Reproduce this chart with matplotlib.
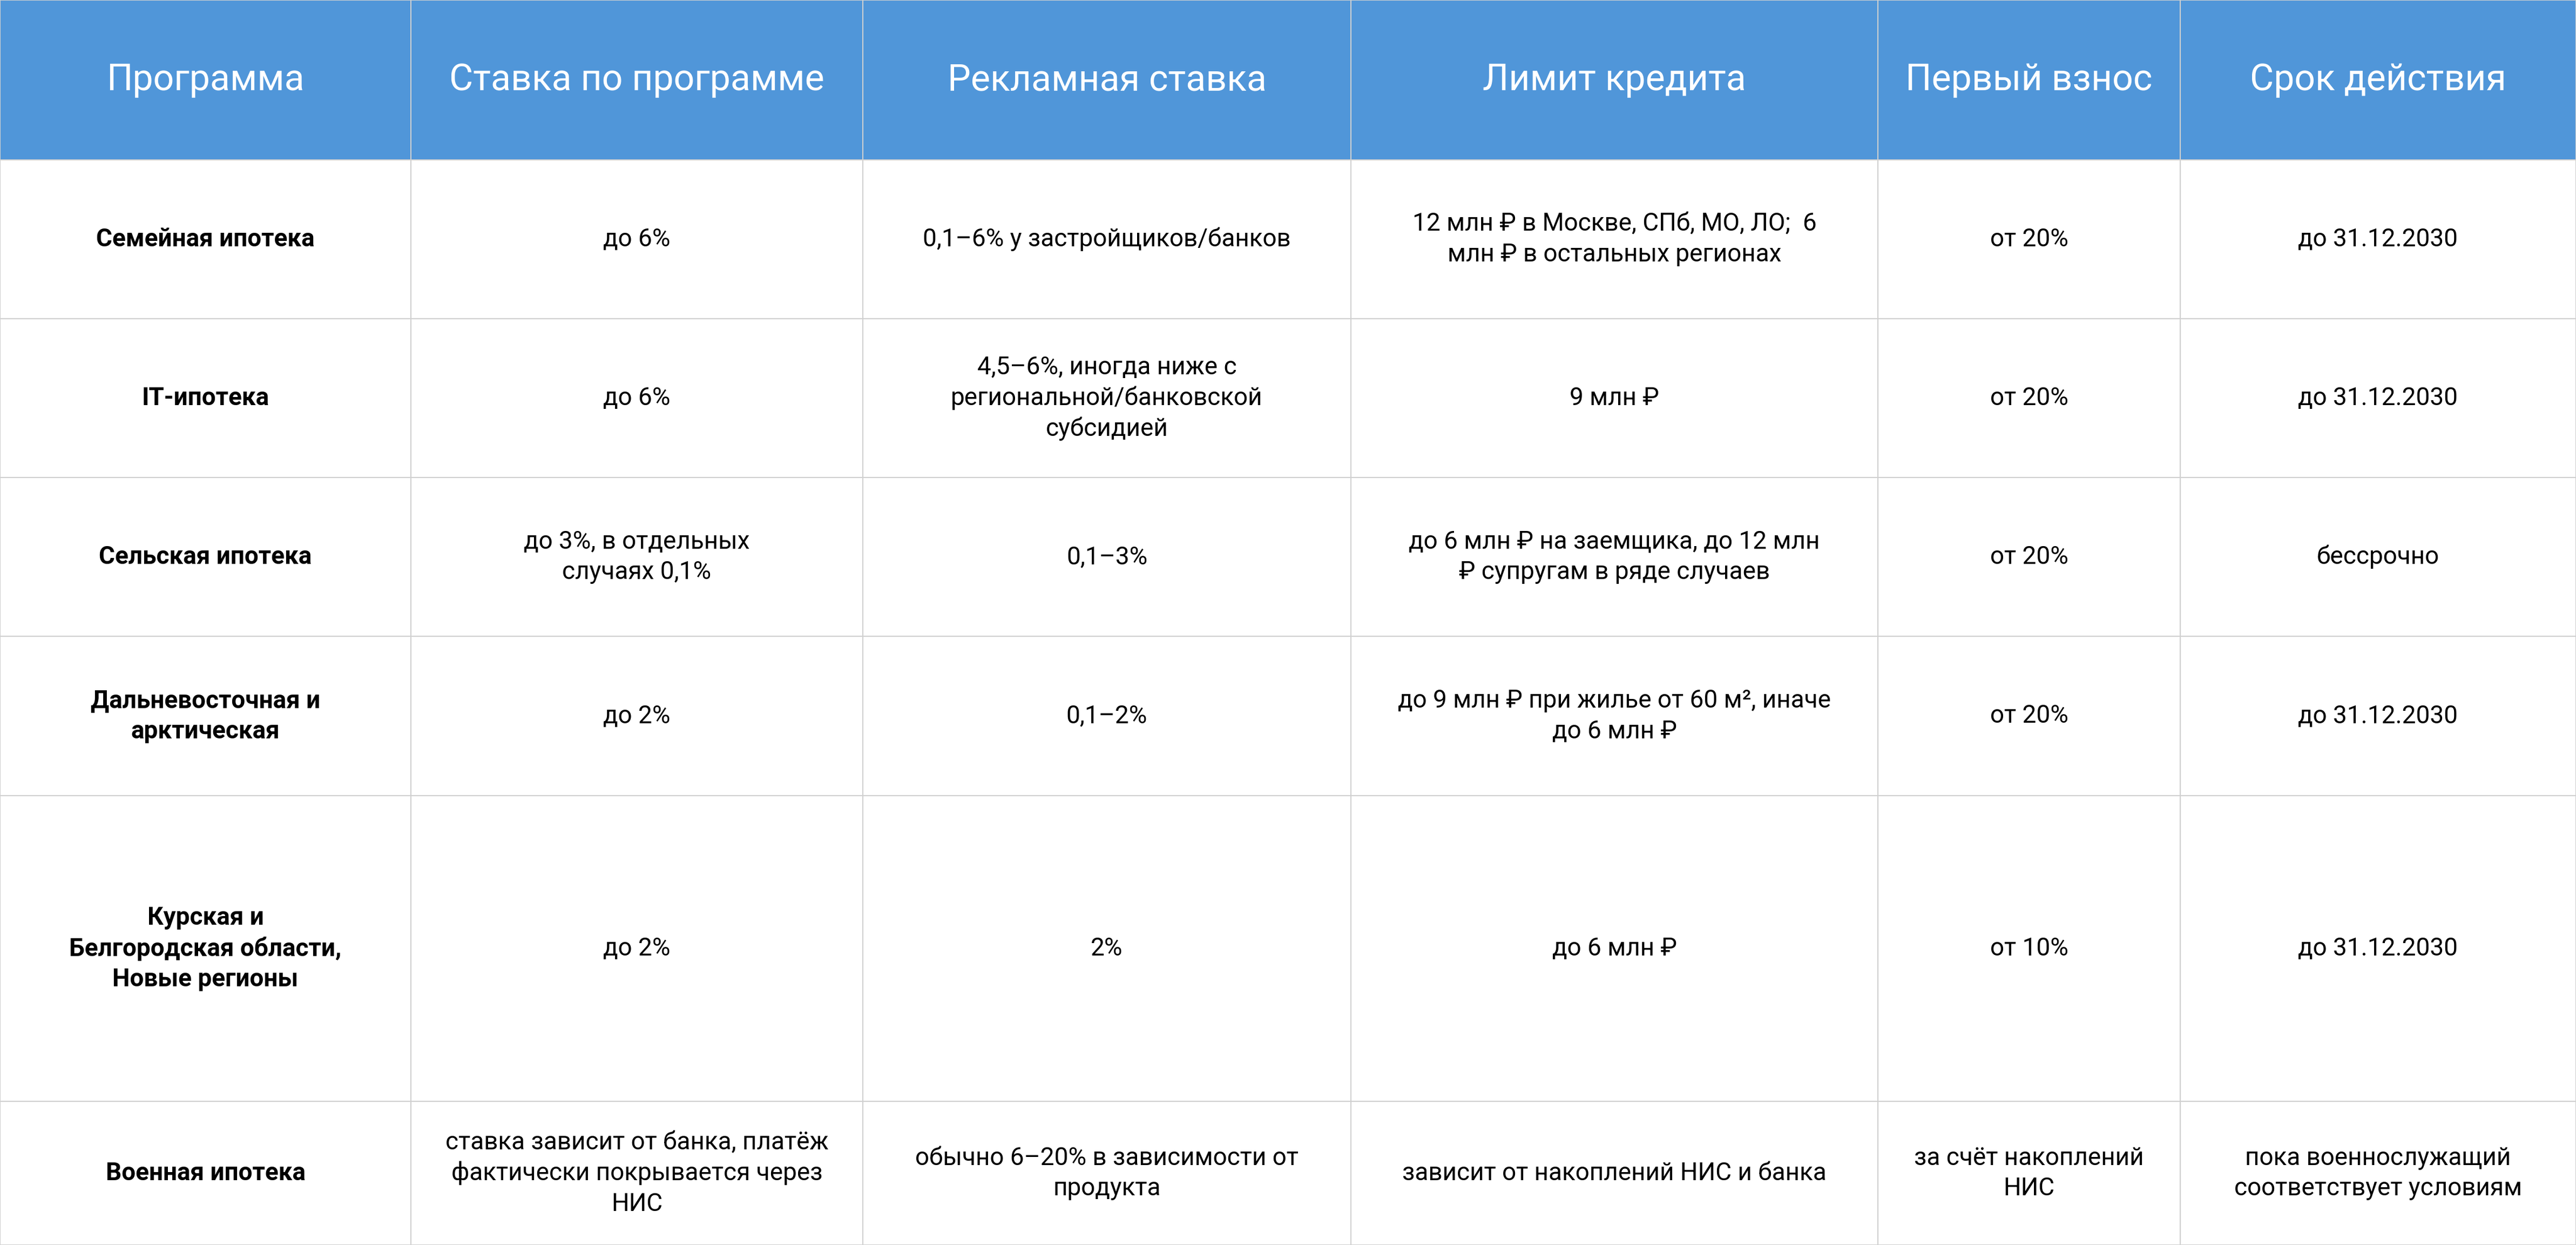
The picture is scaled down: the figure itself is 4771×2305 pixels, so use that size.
import matplotlib
matplotlib.use("Agg")
import matplotlib.pyplot as plt
from matplotlib.patches import Rectangle

plt.rcParams['font.family'] = ['Roboto', 'DejaVu Sans']

headers = ["Программа", "Ставка по программе", "Рекламная ставка", "Лимит кредита", "Первый взнос", "Срок действия"]
programs = ["Семейная ипотека", "IT-ипотека", "Сельская ипотека", "Дальневосточная и\nарктическая",
            "Курская и\nБелгородская области,\nНовые регионы", "Военная ипотека"]
rates = ["до 6%", "до 6%", "до 3%, в отдельных\nслучаях 0,1%", "до 2%", "до 2%",
         "ставка зависит от банка, платёж\nфактически покрывается через\nНИС"]
promo = ["0,1–6% у застройщиков/банков", "4,5–6%, иногда ниже с\nрегиональной/банковской\nсубсидией",
         "0,1–3%", "0,1–2%", "2%", "обычно 6–20% в зависимости от\nпродукта"]
limits = ["12 млн ₽ в Москве, СПб, МО, ЛО;  6\nмлн ₽ в остальных регионах", "9 млн ₽",
          "до 6 млн ₽ на заемщика, до 12 млн\n₽ супругам в ряде случаев",
          "до 9 млн ₽ при жилье от 60 м², иначе\nдо 6 млн ₽", "до 6 млн ₽",
          "зависит от накоплений НИС и банка"]
down = ["от 20%", "от 20%", "от 20%", "от 20%", "от 10%", "за счёт накоплений\nНИС"]
term = ["до 31.12.2030", "до 31.12.2030", "бессрочно", "до 31.12.2030", "до 31.12.2030",
        "пока военнослужащий\nсоответствует условиям"]

W, H = 4771, 2305
col_edges = [0, 761, 1598, 2502, 3478, 4038, 4771]
row_edges = [0, 296, 590, 884, 1178, 1473, 2039, 2305]

fig = plt.figure(figsize=(W / 100, H / 100), dpi=100)
ax = fig.add_axes([0, 0, 1, 1])
ax.set_xlim(0, W)
ax.set_ylim(H, 0)
ax.axis('off')

ax.add_patch(Rectangle((0, 0), W, row_edges[1], facecolor='#5096D9', edgecolor='none'))
grid = '#d0d0d0'
for x in col_edges:
    ax.plot([x, x], [0, H], color=grid, lw=1.5)
for y in row_edges:
    ax.plot([0, W], [y, y], color=grid, lw=1.5)

for j, h in enumerate(headers):
    cx = (col_edges[j] + col_edges[j + 1]) / 2
    ax.text(cx, row_edges[1] / 2, h, ha='center', va='center', color='white', fontsize=49)

columns = [programs, rates, promo, limits, down, term]
for j, col in enumerate(columns):
    cx = (col_edges[j] + col_edges[j + 1]) / 2
    for i, t in enumerate(col):
        cy = (row_edges[i + 1] + row_edges[i + 2]) / 2
        ax.text(cx, cy, t, ha='center', va='center', color='black', fontsize=33,
                fontweight='bold' if j == 0 else 'normal', linespacing=1.35)

fig.savefig('out.png', dpi=100, facecolor='white')
